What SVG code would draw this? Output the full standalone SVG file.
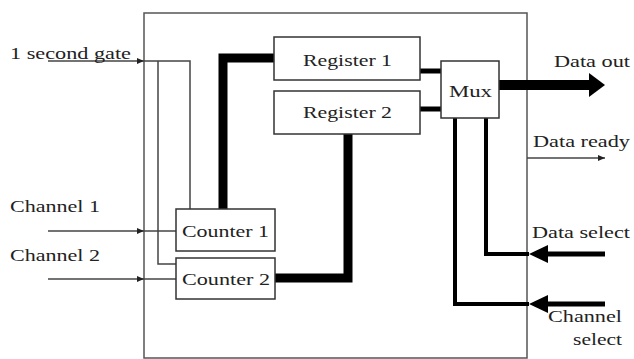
<svg xmlns="http://www.w3.org/2000/svg" width="634" height="359" viewBox="0 0 634 359">
<style>
.box{fill:#fff;stroke:#333;stroke-width:1.5}
.outer{fill:#fff;stroke:#555;stroke-width:1.5}
.t{font-family:"Liberation Serif","Times New Roman",serif;font-size:17px;fill:#222}
.thin{fill:none;stroke:#444;stroke-width:1.5}
.thick{fill:none;stroke:#000;stroke-linejoin:miter}
</style>
<defs>
<marker id="a" markerUnits="userSpaceOnUse" markerWidth="8" markerHeight="8" refX="7" refY="4" orient="auto">
<path d="M0,1 L7,4 L0,7 z" fill="#222"/>
</marker>
</defs>
<rect class="outer" x="144" y="13" width="383" height="345"/>
<g id="connectors">
<path class="thin" d="M48,61 H144" marker-end="url(#a)"/>
<path class="thin" d="M144,61 H190 V209"/>
<path class="thin" d="M158,61 V264 H176"/>
<path class="thin" d="M48,231 H144" marker-end="url(#a)"/>
<path class="thin" d="M144,231 H176"/>
<path class="thin" d="M48,279 H144" marker-end="url(#a)"/>
<path class="thin" d="M144,279 H176"/>
<path class="thin" d="M527,158 H605" marker-end="url(#a)"/>
<path class="thick" stroke-width="9" d="M223,209 V58 H274"/>
<path class="thick" stroke-width="9" d="M348,134 V278 H275"/>
<path class="thick" stroke-width="5" d="M420,71 H441"/>
<path class="thick" stroke-width="5" d="M420,109 H441"/>
<path class="thick" stroke-width="10" d="M499,85 H591"/>
<polygon points="589,73 605,85 589,97" fill="#000"/>
<path class="thick" stroke-width="5" d="M605,254 H547"/>
<polygon points="548,245 529,254 548,263" fill="#000"/>
<path class="thick" stroke-width="4" d="M529,254 H486 V118"/>
<path class="thick" stroke-width="5" d="M605,304 H547"/>
<polygon points="548,295 529,304 548,313" fill="#000"/>
<path class="thick" stroke-width="4" d="M529,304 H455 V118"/>
</g>
<g id="register1"><rect class="box" x="274" y="37" width="146" height="43"/><text class="t" x="303" y="66" textLength="89" lengthAdjust="spacingAndGlyphs">Register 1</text></g>
<g id="register2"><rect class="box" x="274" y="91" width="146" height="43"/><text class="t" x="303" y="118" textLength="89" lengthAdjust="spacingAndGlyphs">Register 2</text></g>
<g id="mux"><rect class="box" x="441" y="61" width="58" height="57"/><text class="t" x="449" y="97" textLength="43" lengthAdjust="spacingAndGlyphs">Mux</text></g>
<g id="counter1"><rect class="box" x="176" y="209" width="99" height="42"/><text class="t" x="182" y="237" textLength="87" lengthAdjust="spacingAndGlyphs">Counter 1</text></g>
<g id="counter2"><rect class="box" x="176" y="258" width="99" height="41"/><text class="t" x="182" y="285" textLength="88" lengthAdjust="spacingAndGlyphs">Counter 2</text></g>
<g id="labels">
<text class="t" x="10" y="59" textLength="121" lengthAdjust="spacingAndGlyphs">1 second gate</text>
<text class="t" x="10" y="212" textLength="90" lengthAdjust="spacingAndGlyphs">Channel 1</text>
<text class="t" x="10" y="261" textLength="90" lengthAdjust="spacingAndGlyphs">Channel 2</text>
<text class="t" x="554" y="67" textLength="76" lengthAdjust="spacingAndGlyphs">Data out</text>
<text class="t" x="533" y="147" textLength="97" lengthAdjust="spacingAndGlyphs">Data ready</text>
<text class="t" x="532" y="238" textLength="98" lengthAdjust="spacingAndGlyphs">Data select</text>
<text class="t" x="548" y="322" textLength="74" lengthAdjust="spacingAndGlyphs">Channel</text>
<text class="t" x="573" y="345" textLength="49" lengthAdjust="spacingAndGlyphs">select</text>
</g>
</svg>
